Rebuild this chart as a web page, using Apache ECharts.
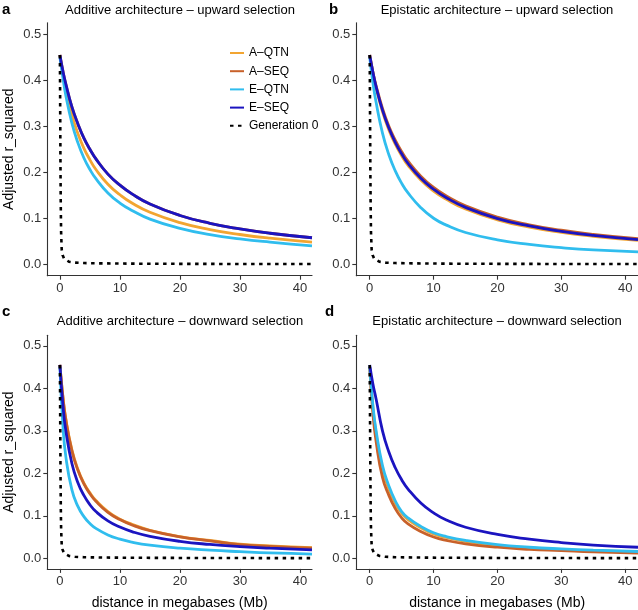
<!DOCTYPE html>
<html>
<head>
<meta charset="utf-8">
<script src="https://cdn.jsdelivr.net/npm/echarts@6/dist/echarts.min.js"></script>
<style>html,body{margin:0;padding:0;background:#fff}#c{width:638px;height:610px}</style>
</head>
<body>
<div id="c"></div>
<script>
const seriesNames = ['A–QTN', 'A–SEQ', 'E–QTN', 'E–SEQ', 'Generation 0'];
const panelTitles = ['Additive architecture – upward selection', 'Epistatic architecture – upward selection',
  'Additive architecture – downward selection', 'Epistatic architecture – downward selection'];
const panelLetters = ['a', 'b', 'c', 'd'];
const xTicks = [0, 10, 20, 30, 40];
const yTicks = [0, 0.1, 0.2, 0.3, 0.4, 0.5];
const yTitle = 'Adjusted r_squared';
const xTitle = 'distance in megabases (Mb)';

const xs = [0, 0.5, 1, 2, 3, 4, 5, 6, 8, 10, 12, 15, 20, 25, 30, 35, 42];

const aAQTN = [.455, .413, .379, .324, .284, .252, .227, .206, .174, .151, .133, .113, .0905, .0754, .0646, .0565, .048];
const aASEQ = [.455, .420, .391, .342, .305, .274, .250, .229, .196, .172, .153, .131, .106, .089, .0767, .0673, .0575];
const aEQTN = [.450, .406, .366, .307, .264, .231, .206, .186, .155, .133, .117, .098, .078, .0645, .055, .048, .040];
const aESEQ = [.455, .420, .391, .342, .305, .274, .250, .229, .196, .172, .153, .131, .106, .089, .0767, .0673, .0575];

const bAQTN = [.455, .416, .384, .332, .292, .261, .236, .215, .183, .159, .141, .120, .0964, .0805, .0691, .0606, .0516];
const bASEQ = [.455, .418, .388, .339, .300, .270, .245, .224, .1915, .167, .1485, .127, .1025, .0858, .0739, .0648, .0553];
const bEQTN = [.450, .395, .352, .285, .238, .203, .176, .155, .123, .100, .085, .069, .053, .043, .036, .031, .027];
const bESEQ = [.455, .418, .386, .335, .296, .265, .240, .219, .187, .163, .1445, .1235, .0993, .0831, .0714, .0626, .0534];

const cAQTN = [.455, .381, .327, .255, .209, .177, .154, .136, .110, .092, .080, .066, .051, .042, .033, .029, .025];
const cASEQ = [.455, .379, .325, .253, .207, .175, .152, .134, .108, .091, .0784, .065, .0505, .041, .032, .028, .024];
const cEQTN = [.450, .313, .238, .161, .122, .098, .082, .0704, .055, .045, .038, .031, .0237, .019, .0155, .0125, .010];
const cESEQ = [.455, .361, .299, .223, .178, .148, .126, .110, .088, .0734, .0628, .0517, .0399, .0325, .0274, .0237, .0199];

const dAQTN = [.450, .355, .293, .210, .163, .130, .106, .091, .072, .057, .049, .040, .030, .0245, .0205, .0177, .0148];
const dASEQ = [.450, .340, .275, .190, .148, .117, .095, .081, .063, .050, .042, .034, .026, .021, .018, .015, .012];
const dEQTN = [.450, .360, .300, .218, .170, .135, .110, .095, .075, .060, .051, .042, .032, .026, .022, .019, .016];
const dESEQ = [.455, .410, .375, .300, .250, .213, .185, .163, .130, .107, .090, .073, .056, .045, .037, .031, .026];

const g0x = [0, 0.05, 0.1, 0.15, 0.2, 0.3, 0.45, 0.7, 1, 1.5, 2.5, 4, 7, 12, 20, 30, 42];
const g0y = [0.455, 0.33, 0.2, 0.12, 0.07, 0.032, 0.02, 0.012, 0.008, 0.0055, 0.0035, 0.0025, 0.0018, 0.0012, 0.0008, 0.0005, 0.0004];

const panels = [
  [aAQTN, aASEQ, aEQTN, aESEQ],
  [bAQTN, bASEQ, bEQTN, bESEQ],
  [cAQTN, cASEQ, cEQTN, cESEQ],
  [dAQTN, dASEQ, dEQTN, dESEQ]
];

const colors = ['#F2A531', '#C8612A', '#30BDEE', '#1B14C0', '#000000'];
const FONT = '"Liberation Sans", Arial, Helvetica, sans-serif';

const grids = [
  {left: 47.3, top: 22.8, width: 264.7, height: 252.9},
  {left: 356.3, top: 22.8, width: 281.7, height: 252.9},
  {left: 47.3, top: 335.2, width: 264.7, height: 233.7},
  {left: 356.3, top: 335.2, width: 281.7, height: 233.7}
];

const axisCommon = {
  axisLine: {show: true, onZero: false, lineStyle: {color: '#333', width: 1.1}},
  axisTick: {show: true, length: 4, lineStyle: {color: '#333', width: 1.1}},
  splitLine: {show: false},
  axisLabel: {color: '#333', fontSize: 13, fontFamily: FONT, margin: 6}
};

const xAxes = grids.map((g, i) => Object.assign({}, axisCommon, {
  type: 'value', gridIndex: i, min: -2.1, max: 42,
  axisTick: Object.assign({}, axisCommon.axisTick, {customValues: xTicks}),
  axisLabel: Object.assign({}, axisCommon.axisLabel, {customValues: xTicks}),
  name: i >= 2 ? xTitle : '', nameLocation: 'middle', nameGap: 27,
  nameTextStyle: {color: '#000', fontSize: 14, fontFamily: FONT}
}));
const yAxes = grids.map((g, i) => Object.assign({}, axisCommon, {
  type: 'value', gridIndex: i, min: -0.025, max: 0.525,
  axisTick: Object.assign({}, axisCommon.axisTick, {customValues: yTicks}),
  axisLabel: Object.assign({}, axisCommon.axisLabel, {customValues: yTicks, formatter: v => v.toFixed(1)}),
  name: (i % 2 === 0) ? yTitle : '', nameLocation: 'middle', nameGap: 31, nameRotate: 90,
  nameTextStyle: {color: '#000', fontSize: 14, fontFamily: FONT}
}));

const series = [];
panels.forEach((p, pi) => {
  p.forEach((vals, si) => {
    series.push({
      name: seriesNames[si], type: 'line', xAxisIndex: pi, yAxisIndex: pi,
      data: xs.map((x, k) => [x, vals[k]]),
      smooth: 0.5, showSymbol: false, symbol: 'none',
      lineStyle: {color: colors[si], width: 2.8}, itemStyle: {color: colors[si]},
      silent: true, animation: false
    });
  });
  series.push({
    name: seriesNames[4], type: 'line', xAxisIndex: pi, yAxisIndex: pi,
    data: g0x.map((x, k) => [x, g0y[k]]),
    smooth: false, showSymbol: false, symbol: 'none',
    lineStyle: {color: '#000', width: 2.6, type: [3.5, 4.5]}, itemStyle: {color: '#000'},
    silent: true, animation: false
  });
});

const graphics = [];
const titlePos = [[180, 10], [497, 10], [180, 321.5], [497, 321.5]];
const letterPos = [[2, 10], [329, 10], [2, 311.5], [325, 311.5]];
panelTitles.forEach((t, i) => {
  graphics.push({type: 'text', x: titlePos[i][0], y: titlePos[i][1],
    style: {text: t, fill: '#000', font: '13px ' + FONT, textAlign: 'center', textVerticalAlign: 'middle'}});
  graphics.push({type: 'text', x: letterPos[i][0], y: letterPos[i][1],
    style: {text: panelLetters[i], fill: '#000', font: 'bold 15px ' + FONT, textAlign: 'left', textVerticalAlign: 'middle'}});
});

const chart = echarts.init(document.getElementById('c'), null, {renderer: 'canvas'});
chart.setOption({
  animation: false,
  backgroundColor: '#fff',
  grid: grids.map(g => Object.assign({containLabel: false, outerBoundsMode: 'none'}, g)),
  xAxis: xAxes,
  yAxis: yAxes,
  legend: {
    data: seriesNames, orient: 'vertical', left: 224, top: 41,
    itemWidth: 14, itemHeight: 14, itemGap: 4.2,
    itemStyle: {opacity: 0},
    textStyle: {fontSize: 12, fontFamily: FONT, color: '#000', lineHeight: 14, height: 14},
    selectedMode: false
  },
  graphic: graphics,
  series: series
});
</script>
</body>
</html>
